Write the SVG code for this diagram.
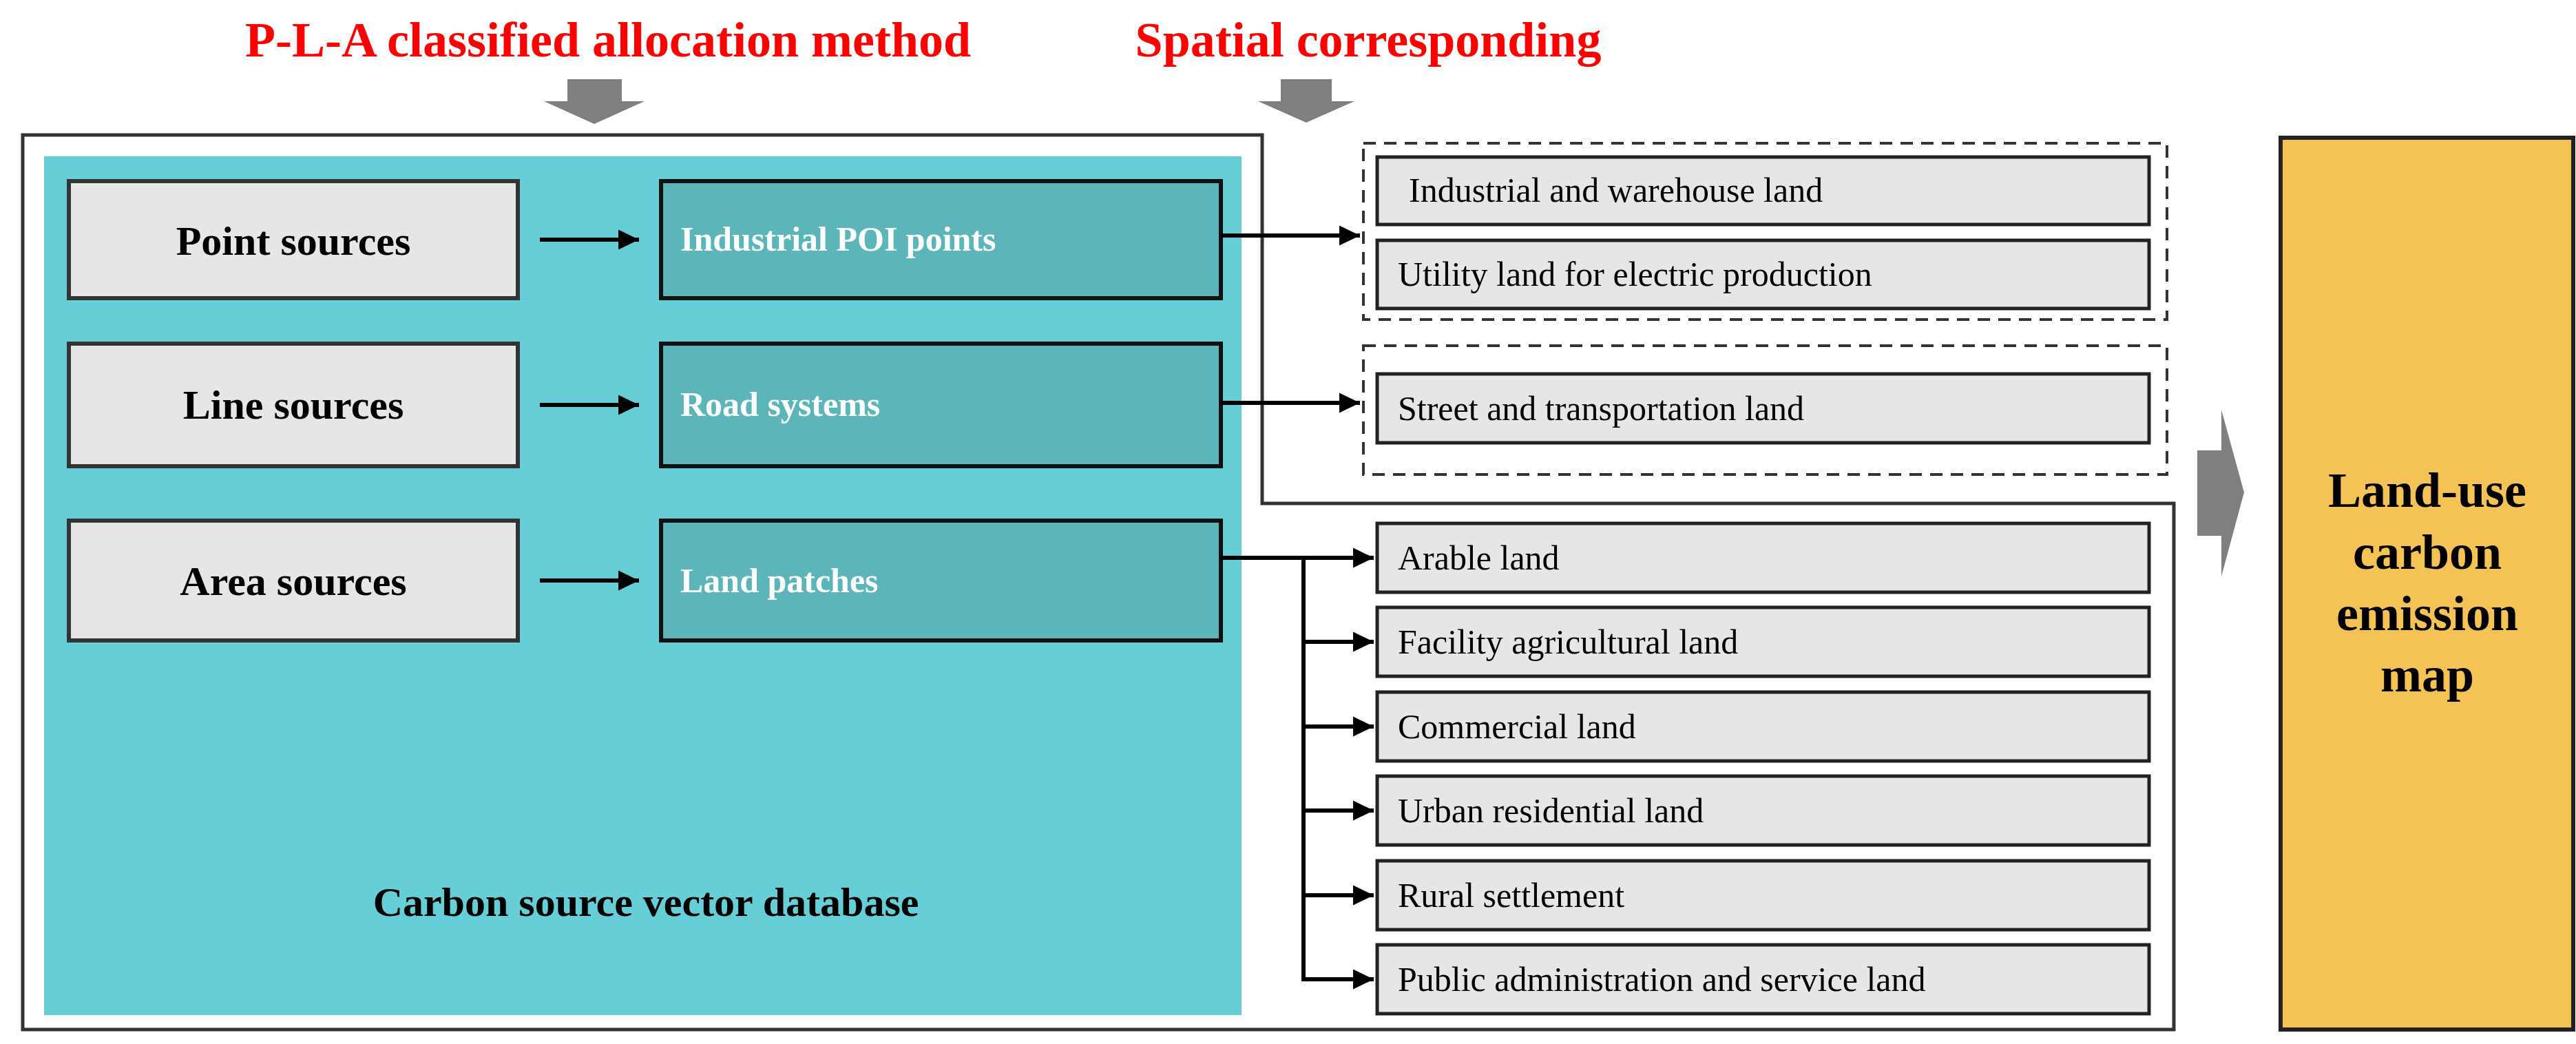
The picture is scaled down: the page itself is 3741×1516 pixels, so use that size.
<svg xmlns="http://www.w3.org/2000/svg" width="3741" height="1516" viewBox="0 0 3741 1516">
<defs>
<style>
text{font-family:"Liberation Serif","Times New Roman",serif}
.title{fill:#ff0000;font-weight:bold;font-size:72px}
.src{fill:#e6e6e6;stroke:#333;stroke-width:6}
.mid{fill:#5cb5b9;stroke:#111;stroke-width:6}
.land{fill:#e6e6e6;stroke:#222;stroke-width:5}
.dash{fill:none;stroke:#333;stroke-width:4;stroke-dasharray:18 12}
.bt{font-weight:bold;font-size:60px;fill:#000}
.wt{font-weight:bold;font-size:50px;fill:#fff}
.lt{font-size:50px;fill:#000}
.ln{stroke:#000;stroke-width:6;fill:none}
</style>
<marker id="ah" markerWidth="6" markerHeight="6" refX="5" refY="3" orient="auto" markerUnits="strokeWidth"><path d="M0,0.6 L5,3 L0,5.4 Z" fill="#000"/></marker>
</defs>
<text class="title" x="883" y="82" text-anchor="middle">P-L-A classified allocation method</text>
<text class="title" x="1987" y="82" text-anchor="middle">Spatial corresponding</text>
<polygon points="824,115 903,115 903,147 936,147 863,180 790,147 824,147" fill="#7f7f7f"/>
<polygon points="1860,115 1934,115 1934,147 1967,147 1897,178 1827,147 1860,147" fill="#7f7f7f"/>
<polygon points="33,196 1833,196 1833,731 3157,731 3157,1495 33,1495" fill="none" stroke="#333" stroke-width="5"/>
<rect x="64" y="227" width="1739" height="1247" fill="#66ced6"/>
<text class="bt" x="938" y="1330" text-anchor="middle">Carbon source vector database</text>
<g id="point"><rect class="src" x="100" y="263" width="652" height="170"/><text class="bt" x="426" y="370" text-anchor="middle">Point sources</text></g>
<g id="line"><rect class="src" x="100" y="499" width="652" height="178"/><text class="bt" x="426" y="608" text-anchor="middle">Line sources</text></g>
<g id="area"><rect class="src" x="100" y="756" width="652" height="174"/><text class="bt" x="426" y="864" text-anchor="middle">Area sources</text></g>
<g id="poi"><rect class="mid" x="960" y="263" width="813" height="170"/><text class="wt" x="988" y="364">Industrial POI points</text></g>
<g id="road"><rect class="mid" x="960" y="499" width="813" height="178"/><text class="wt" x="988" y="604">Road systems</text></g>
<g id="patch"><rect class="mid" x="960" y="756" width="813" height="174"/><text class="wt" x="988" y="860">Land patches</text></g>
<rect class="dash" x="1980" y="208" width="1167" height="256"/>
<rect class="dash" x="1980" y="502" width="1167" height="187"/>
<g id="ind"><rect class="land" x="2000" y="228" width="1121" height="98"/><text class="lt" x="2046" y="293">Industrial and warehouse land</text></g>
<g id="util"><rect class="land" x="2000" y="349" width="1121" height="99"/><text class="lt" x="2030" y="415">Utility land for electric production</text></g>
<g id="street"><rect class="land" x="2000" y="543" width="1121" height="100"/><text class="lt" x="2030" y="610">Street and transportation land</text></g>
<g id="arable"><rect class="land" x="2000" y="760" width="1121" height="100"/><text class="lt" x="2030" y="827">Arable land</text></g>
<g id="facility"><rect class="land" x="2000" y="882" width="1121" height="100"/><text class="lt" x="2030" y="949">Facility agricultural land</text></g>
<g id="commercial"><rect class="land" x="2000" y="1005" width="1121" height="100"/><text class="lt" x="2030" y="1072">Commercial land</text></g>
<g id="urban"><rect class="land" x="2000" y="1127" width="1121" height="100"/><text class="lt" x="2030" y="1194">Urban residential land</text></g>
<g id="rural"><rect class="land" x="2000" y="1250" width="1121" height="100"/><text class="lt" x="2030" y="1317">Rural settlement</text></g>
<g id="public"><rect class="land" x="2000" y="1372" width="1121" height="100"/><text class="lt" x="2030" y="1439">Public administration and service land</text></g>
<polygon points="3191,654 3226,654 3226,595 3259,715 3226,837 3226,778 3191,778" fill="#7f7f7f"/>
<g id="map"><rect x="3312" y="200" width="425" height="1295" fill="#f5c256" stroke="#222" stroke-width="6"/>
<text x="3525" y="736" text-anchor="middle" font-weight="bold" font-size="72">Land-use</text>
<text x="3525" y="826" text-anchor="middle" font-weight="bold" font-size="72">carbon</text>
<text x="3525" y="915" text-anchor="middle" font-weight="bold" font-size="72">emission</text>
<text x="3525" y="1004" text-anchor="middle" font-weight="bold" font-size="72">map</text></g>
<g id="connectors">
<line class="ln" x1="784" y1="348" x2="928" y2="348" marker-end="url(#ah)"/>
<line class="ln" x1="784" y1="588" x2="928" y2="588" marker-end="url(#ah)"/>
<line class="ln" x1="784" y1="843" x2="928" y2="843" marker-end="url(#ah)"/>
<line class="ln" x1="1773" y1="342" x2="1975" y2="342" marker-end="url(#ah)"/>
<line class="ln" x1="1773" y1="585" x2="1975" y2="585" marker-end="url(#ah)"/>
<line class="ln" x1="1773" y1="810" x2="1995" y2="810" marker-end="url(#ah)"/>
<polyline class="ln" points="1893,810 1893,1422 1995,1422" marker-end="url(#ah)"/>
<line class="ln" x1="1893" y1="932" x2="1995" y2="932" marker-end="url(#ah)"/>
<line class="ln" x1="1893" y1="1055" x2="1995" y2="1055" marker-end="url(#ah)"/>
<line class="ln" x1="1893" y1="1177" x2="1995" y2="1177" marker-end="url(#ah)"/>
<line class="ln" x1="1893" y1="1300" x2="1995" y2="1300" marker-end="url(#ah)"/>
</g>
</svg>
